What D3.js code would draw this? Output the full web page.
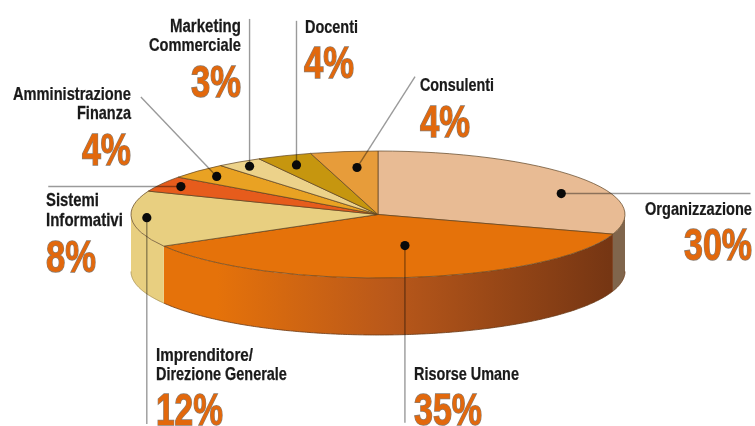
<!DOCTYPE html>
<html>
<head>
<meta charset="utf-8">
<script src="https://cdn.jsdelivr.net/npm/d3@7"></script>
<style>
  html, body { margin: 0; padding: 0; background: #fff; overflow: hidden; }
  text { font-family: "Liberation Sans Narrow", "Liberation Sans", sans-serif; font-weight: bold; }
</style>
</head>
<body>
<div id="pieGraph"></div>
<script>
// Slices clockwise from twelve o'clock
const categories = ["Organizzazione", "Risorse Umane", "Imprenditore/Direzione Generale", "Sistemi Informativi",
    "Amministrazione Finanza", "Marketing Commerciale", "Docenti", "Consulenti"];
// printed percentages
const printed = [30, 35, 12, 8, 4, 3, 4, 4];
// slice sizes as drawn in the picture (they differ a bit from what is printed)
const drawnShares = [30, 36.7, 14.3, 4, 4, 3, 3.6, 4.4];
const sliceColors = ["#e8bb94", "#e5720a", "#e8cf80", "#e65c1c", "#e9a223", "#ecd28a", "#c6960f", "#e79c3a"];

// Callout layout: dot and leader end in pie units (-1..1), label lines in pixels
const dots = [[0.742, -0.33], [0.109, 0.49], [-0.936, 0.05], [-0.798, -0.44], [-0.653, -0.6], [-0.52, -0.76], [-0.33, -0.78], [-0.085, -0.74]];
const leaderEnds = [[1.508, -0.33], [0.109, 3.28], [-0.936, 3.30], [-1.335, -0.44], [-0.96, -1.85], [-0.52, -3.08], [-0.33, -3.05], [0.15, -2.17]];
const labelLines = [
    [["Organizzazione", 645, 215, 107]],
    [["Risorse Umane", 414, 380, 105]],
    [["Imprenditore/", 156, 361, 97], ["Direzione Generale", 156, 380, 131]],
    [["Sistemi", 46, 206, 53], ["Informativi", 46, 226, 77]],
    [["Amministrazione", 13, 100, 118], ["Finanza", 77, 119, 54]],
    [["Marketing", 170, 32, 71], ["Commerciale", 149, 51, 92]],
    [["Docenti", 305, 33, 53]],
    [["Consulenti", 420, 91, 74]]
];
const percentPos = [[684, 260, 68], [414, 425, 68], [156, 425, 67], [46, 272, 50], [82, 165, 49], [191, 97, 50], [304, 78, 50], [420, 137, 50]];

const width = 755, height = 426;
const depth = 57;

const svg = d3.select("#pieGraph").append("svg")
    .attr("width", width)
    .attr("height", height)
    .style("display", "block");

// pie units to pixels
const x = d3.scaleLinear().domain([-1, 1]).range([131, 625]);
const y = d3.scaleLinear().domain([-1, 1]).range([151, 278]);
const rx = (x(1) - x(-1)) / 2, ry = (y(1) - y(-1)) / 2;

const slices = d3.pie().value(d => d).sort(null)(drawnShares);

// Side gradient of the big orange slice
const grad = svg.append("defs").append("linearGradient")
    .attr("id", "sideGrad")
    .attr("gradientUnits", "userSpaceOnUse")
    .attr("x1", x(-0.87)).attr("x2", x(0.96))
    .attr("y1", 0).attr("y2", 0);
grad.append("stop").attr("offset", 0.12).attr("stop-color", "#e5720a");
grad.append("stop").attr("offset", 0.5).attr("stop-color", "#b9581a");
grad.append("stop").attr("offset", 1).attr("stop-color", "#743513");

/*** Side wall ***/
const wall = d3.area()
    .x(a => x(Math.sin(a)))
    .y0(a => y(-Math.cos(a)))
    .y1(a => y(-Math.cos(a)) + depth);

const wallColors = ["#80654c", "url(#sideGrad)", "#e8cf80"];
slices.forEach((s, i) => {
    const from = Math.max(s.startAngle, Math.PI / 2);
    const to = Math.min(s.endAngle, 3 * Math.PI / 2);
    if (from >= to) return;
    const angles = d3.range(from, to, 0.01).concat([to]);
    svg.append("path")
        .attr("d", wall(angles))
        .attr("fill", wallColors[i])
        .attr("stroke", "none");
    // dark lower edge
    svg.append("path")
        .attr("d", d3.line().x(a => x(Math.sin(a))).y(a => y(-Math.cos(a)) + depth)(angles))
        .attr("fill", "none")
        .attr("stroke", i === 2 ? "#a89050" : "#6a3a16")
        .attr("stroke-width", 0.8);
});

/*** Top face ***/
const arc = d3.arc().innerRadius(0).outerRadius(rx);
svg.append("g")
    .attr("transform", "translate(" + x(0) + "," + y(0) + ") scale(1," + (ry / rx) + ")")
    .selectAll("path")
    .data(slices)
    .join("path")
    .attr("d", arc)
    .attr("fill", (d, i) => sliceColors[i])
    .attr("stroke", "#5c4020")
    .attr("stroke-width", 0.7)
    .attr("vector-effect", "non-scaling-stroke");

/*** Leaders ***/
svg.append("g")
    .style("mix-blend-mode", "multiply")
    .selectAll("line")
    .data(dots)
    .join("line")
    .attr("x1", d => x(d[0]))
    .attr("y1", d => y(d[1]))
    .attr("x2", (d, i) => x(leaderEnds[i][0]))
    .attr("y2", (d, i) => y(leaderEnds[i][1]))
    .attr("stroke", "#9a9a9a")
    .attr("stroke-width", 1.4);

svg.append("g")
    .selectAll("circle")
    .data(dots)
    .join("circle")
    .attr("cx", d => x(d[0]))
    .attr("cy", d => y(d[1]))
    .attr("r", 4.6)
    .attr("fill", "#0a0a0a");

/*** Labels ***/
// squeeze a text to the width it has in the picture
function fitTo(px, py, w) {
    return function () {
        const natural = this.getComputedTextLength();
        return "translate(" + px + "," + py + ") scale(" + (w / natural) + ",1)";
    };
}

svg.append("g")
    .selectAll("text")
    .data(labelLines.flat())
    .join("text")
    .attr("font-size", 18)
    .attr("fill", "#1a1a1a")
    .attr("stroke", "#1a1a1a")
    .attr("stroke-width", 0.25)
    .text(d => d[0])
    .each(function (d) {
        d3.select(this).attr("transform", fitTo(d[1], d[2], d[3]).call(this));
    });

svg.append("g")
    .selectAll("text")
    .data(printed)
    .join("text")
    .attr("font-size", 45)
    .attr("fill", "#e2680c")
    .attr("stroke", "#8a7c70")
    .attr("stroke-width", 1.5)
    .style("paint-order", "stroke")
    .text(d => d + "%")
    .each(function (d, i) {
        const p = percentPos[i];
        d3.select(this).attr("transform", fitTo(p[0], p[1], p[2]).call(this));
    });
</script>
</body>
</html>
